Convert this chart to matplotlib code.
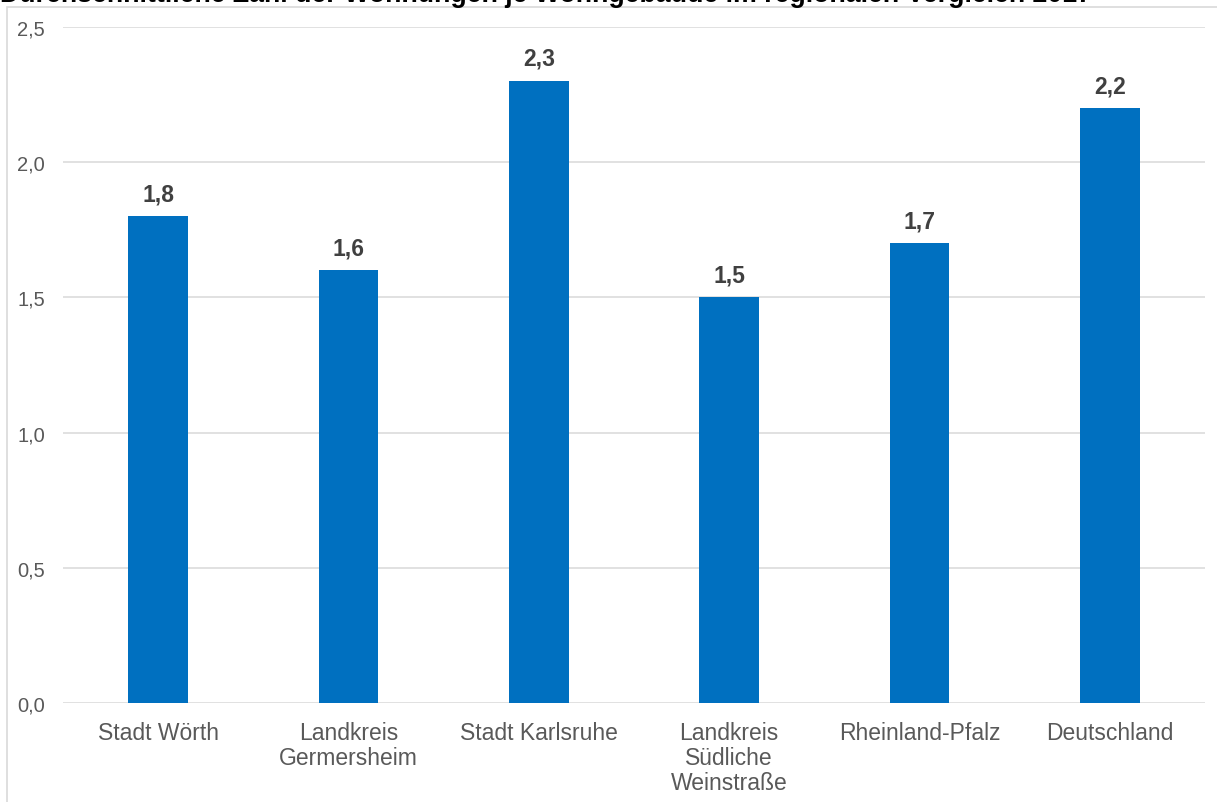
import matplotlib
matplotlib.use("Agg")
import matplotlib.pyplot as plt
from matplotlib.patches import Rectangle
from matplotlib.ticker import FuncFormatter

# Data
categories = ["Stadt Wörth", "Landkreis\nGermersheim", "Stadt Karlsruhe",
              "Landkreis\nSüdliche\nWeinstraße", "Rheinland-Pfalz", "Deutschland"]
values = [1.8, 1.6, 2.3, 1.5, 1.7, 2.2]
yticks = [0.0, 0.5, 1.0, 1.5, 2.0, 2.5]
title = "Durchschnittliche Zahl der Wohnungen je Wohngebäude im regionalen Vergleich 2017"

plt.rcParams["font.family"] = ["Liberation Sans", "DejaVu Sans"]

W, H = 1217, 803
fig = plt.figure(figsize=(W / 100, H / 100), dpi=100)
fig.patch.set_facecolor("white")

# Outer chart frame
fig.patches.append(Rectangle((7 / W, -0.01), 1.2, 1 - 8 / H + 0.01,
                             transform=fig.transFigure, fill=False,
                             edgecolor="#d9d9d9", linewidth=1.2))

left, right = 63 / W, 1205 / W
bottom, top = (H - 704) / H, (H - 28) / H
ax = fig.add_axes([left, bottom, right - left, top - bottom])

x = list(range(len(categories)))
ax.bar(x, values, width=0.315, color="#0070C0", zorder=3)
ax.set_xlim(-0.5, len(categories) - 0.5)
ax.set_ylim(0, 2.5)
ax.set_yticks(yticks)
ax.yaxis.set_major_formatter(FuncFormatter(lambda v, p: f"{v:.1f}".replace(".", ",")))
ax.set_xticks(x)
ax.set_xticklabels(categories, fontsize=16.5, color="#595959", linespacing=1.12)
ax.tick_params(axis="y", labelsize=14.5, colors="#595959", length=0, pad=13)
ax.tick_params(axis="x", length=0, pad=13)

ax.grid(axis="y", color="#d9d9d9", linewidth=1.1, zorder=0)
for s in ax.spines.values():
    s.set_visible(False)

for xi, v in zip(x, values):
    ax.annotate(f"{v:.1f}".replace(".", ","), (xi, v), xytext=(0, 8),
                textcoords="offset points", ha="center", va="bottom",
                fontsize=16.5, fontweight="bold", color="#404040")

fig.text(0.0, 1 - 2 / H, title, ha="left", va="baseline",
         fontsize=19.3, fontweight="bold", color="#000000")

fig.savefig("out.png", dpi=100)
